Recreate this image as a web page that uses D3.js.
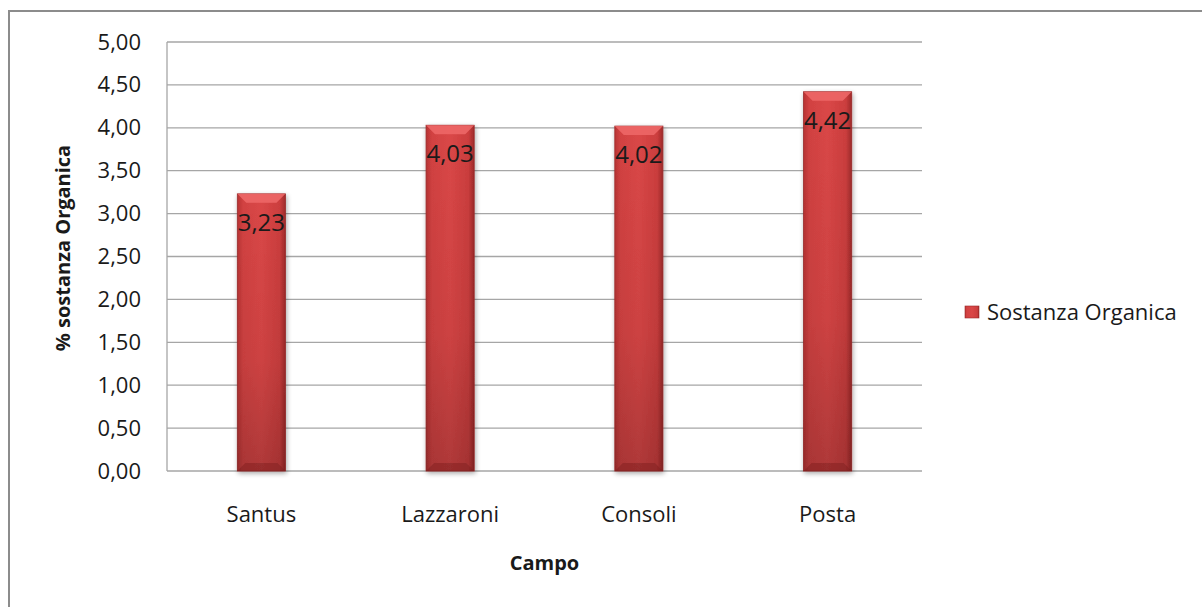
<!DOCTYPE html>
<html><head><meta http-equiv="Content-Type" content="text/html; charset=utf-8">
<script src="https://d3js.org/d3.v7.min.js"></script>
<style>
  body { margin: 0; background: #fff; }
  svg text { font-family: "Open Sans", "Noto Sans", sans-serif; fill: #1a1a1a; }
</style>
</head>
<body>
<div id="chart"></div>
<script type="text/javascript">

var categories = ["Santus", "Lazzaroni", "Consoli", "Posta"];
var values = [3.23, 4.03, 4.02, 4.42];
var yTicks = [0, 0.5, 1, 1.5, 2, 2.5, 3, 3.5, 4, 4.5, 5];
var seriesName = "Sostanza Organica";
var xTitle = "Campo";
var yTitle = "% sostanza Organica";

var width = 1202, height = 607;
var plot = {left: 167, right: 922, top: 42, bottom: 471};

var svg = d3.select("#chart").append("svg")
    .attr("width", width)
    .attr("height", height);

var defs = svg.append("defs");

var grad = defs.append("linearGradient").attr("id", "barH")
    .attr("x1", 0).attr("x2", 1).attr("y1", 0).attr("y2", 0);
grad.append("stop").attr("offset", "0").attr("stop-color", "#b83333");
grad.append("stop").attr("offset", "0.12").attr("stop-color", "#d24242");
grad.append("stop").attr("offset", "0.5").attr("stop-color", "#da4747");
grad.append("stop").attr("offset", "0.88").attr("stop-color", "#cc3e3e");
grad.append("stop").attr("offset", "1").attr("stop-color", "#9e2a2a");

var gradV = defs.append("linearGradient").attr("id", "barV")
    .attr("x1", 0).attr("x2", 0).attr("y1", 0).attr("y2", 1);
gradV.append("stop").attr("offset", "0").attr("stop-color", "#000").attr("stop-opacity", 0);
gradV.append("stop").attr("offset", "0.6").attr("stop-color", "#000").attr("stop-opacity", 0.06);
gradV.append("stop").attr("offset", "1").attr("stop-color", "#000").attr("stop-opacity", 0.2);

var shadow = defs.append("filter").attr("id", "shadow")
    .attr("x", "-30%").attr("y", "-10%").attr("width", "160%").attr("height", "130%");
shadow.append("feGaussianBlur").attr("in", "SourceAlpha").attr("stdDeviation", 2.5);
shadow.append("feOffset").attr("dx", 1).attr("dy", 2).attr("result", "blur");
shadow.append("feComponentTransfer").append("feFuncA").attr("type", "linear").attr("slope", 0.35);
var merge = shadow.append("feMerge");
merge.append("feMergeNode");
merge.append("feMergeNode").attr("in", "SourceGraphic");

// outer frame
svg.append("rect")
    .attr("x", 9).attr("y", 11)
    .attr("width", 1200).attr("height", 620)
    .attr("fill", "none")
    .attr("stroke", "#8c8c8c")
    .attr("stroke-width", 2);

var x = d3.scaleBand()
    .domain(categories)
    .range([plot.left, plot.right])
    .paddingInner(0.745)
    .paddingOuter(0.3725);

var y = d3.scaleLinear()
    .domain([0, 5])
    .range([plot.bottom, plot.top]);

var fmt = function(v) { return d3.format(".2f")(v).replace(".", ","); };

// gridlines
svg.append("g").selectAll("line")
    .data(yTicks)
    .enter().append("line")
    .attr("x1", plot.left).attr("x2", plot.right)
    .attr("y1", function(d) { return y(d); })
    .attr("y2", function(d) { return y(d); })
    .attr("stroke", "#a6a6a6")
    .attr("stroke-width", 1.3);

// plot area left edge
svg.append("line")
    .attr("x1", plot.left).attr("x2", plot.left)
    .attr("y1", plot.top).attr("y2", plot.bottom)
    .attr("stroke", "#a6a6a6").attr("stroke-width", 1.3);

// y axis
var yAxis = svg.append("g")
    .attr("transform", "translate(" + plot.left + ",0)")
    .call(d3.axisLeft(y).tickValues(yTicks).tickFormat(fmt).tickSize(0).tickPadding(26));
yAxis.select(".domain").remove();
yAxis.selectAll("text")
    .style("font-size", "22px")
    .style("font-family", "'Open Sans', sans-serif")
    .attr("fill", "#1a1a1a");

// x axis labels
var xAxis = svg.append("g")
    .attr("transform", "translate(0," + plot.bottom + ")")
    .call(d3.axisBottom(x).tickSize(0).tickPadding(35));
xAxis.select(".domain").remove();
xAxis.selectAll("text")
    .style("font-size", "22px")
    .style("font-family", "'Open Sans', sans-serif")
    .attr("fill", "#1a1a1a");

// bars
var bars = svg.append("g").selectAll("g")
    .data(values)
    .enter().append("g")
    .attr("filter", "url(#shadow)");

bars.append("rect")
    .attr("x", function(d, i) { return x(categories[i]); })
    .attr("y", function(d) { return y(d); })
    .attr("width", x.bandwidth())
    .attr("height", function(d) { return y(0) - y(d); })
    .attr("fill", "url(#barH)")
    .attr("stroke", "#9a2a2a")
    .attr("stroke-width", 0.8);

bars.append("rect")
    .attr("x", function(d, i) { return x(categories[i]); })
    .attr("y", function(d) { return y(d); })
    .attr("width", x.bandwidth())
    .attr("height", function(d) { return y(0) - y(d); })
    .attr("fill", "url(#barV)");

// top bevel
bars.append("path")
    .attr("d", function(d, i) {
        var x0 = x(categories[i]), x1 = x0 + x.bandwidth(), t = y(d), b = 9;
        return "M" + x0 + "," + t + "L" + x1 + "," + t + "L" + (x1 - b) + "," + (t + b) + "L" + (x0 + b) + "," + (t + b) + "Z";
    })
    .attr("fill", "#ee6a6a")
    .attr("opacity", 0.85);

// bottom bevel
bars.append("path")
    .attr("d", function(d, i) {
        var x0 = x(categories[i]), x1 = x0 + x.bandwidth(), bt = y(0), b = 8;
        return "M" + x0 + "," + bt + "L" + x1 + "," + bt + "L" + (x1 - b) + "," + (bt - b) + "L" + (x0 + b) + "," + (bt - b) + "Z";
    })
    .attr("fill", "#7d1f1f")
    .attr("opacity", 0.45);

// data labels
svg.append("g").selectAll("text")
    .data(values)
    .enter().append("text")
    .attr("x", function(d, i) { return x(categories[i]) + x.bandwidth() / 2; })
    .attr("y", function(d) { return y(d) + 37; })
    .attr("text-anchor", "middle")
    .style("font-size", "24px")
    .attr("fill", "#111")
    .text(function(d) { return fmt(d); });

// axis titles
svg.append("text")
    .attr("x", (plot.left + plot.right) / 2)
    .attr("y", 570)
    .attr("text-anchor", "middle")
    .style("font-size", "20px")
    .style("font-weight", "bold")
    .text(xTitle);

svg.append("text")
    .attr("transform", "translate(70,248) rotate(-90)")
    .attr("text-anchor", "middle")
    .style("font-size", "20px")
    .style("font-weight", "bold")
    .text(yTitle);

// legend
var legend = svg.append("g").attr("transform", "translate(965,306)");
legend.append("rect")
    .attr("width", 14).attr("height", 12)
    .attr("fill", "url(#barH)")
    .attr("stroke", "#9a2a2a").attr("stroke-width", 0.6);
legend.append("text")
    .attr("x", 22).attr("y", 14)
    .style("font-size", "22px")
    .text(seriesName);

</script>
</body></html>
